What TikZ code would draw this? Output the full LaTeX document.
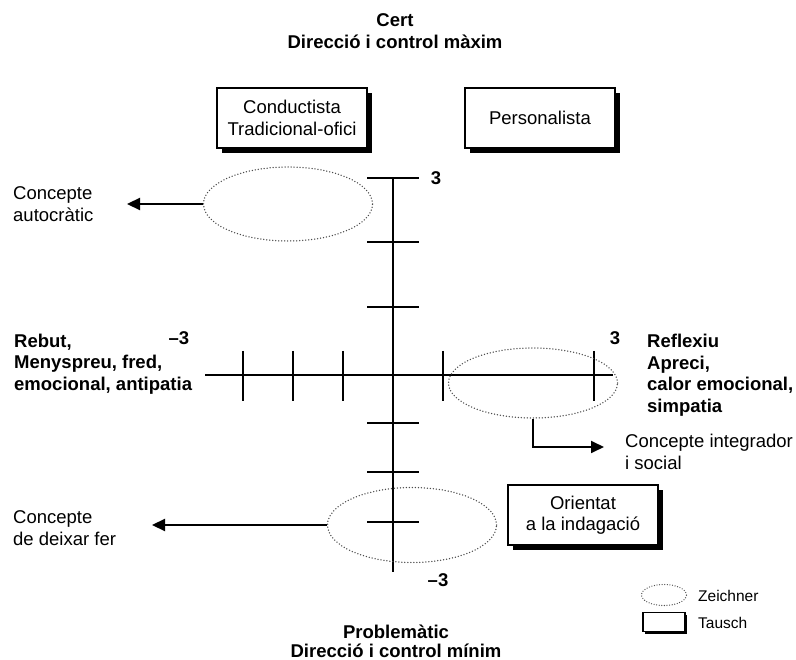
\documentclass[tikz,border=0pt]{standalone}
\usepackage{fontspec}
\setmainfont{Liberation Sans}
\usetikzlibrary{arrows.meta,shadows,shapes.geometric}
\begin{document}
\begin{tikzpicture}[x=1pt, y=-1pt, font=\fontsize{18.5}{21.5}\selectfont,
  every node/.style={inner sep=0pt},
  note/.style={align=left, anchor=west},
  box/.style={draw, fill=white, line width=1.1pt, minimum width=150pt, minimum height=60pt, align=center,
    drop shadow={shadow xshift=#1, shadow yshift=-#1, fill=black, opacity=1}},
  box/.default=5pt,
  zone/.style={ellipse, draw=black!70, line width=1.5pt, line cap=round, dash pattern=on 0pt off 3pt},
  arr/.style={line width=2.2pt, -{Triangle[length=13pt,width=12pt]}}]
\useasboundingbox (0,0) rectangle (796,660);
% titles
\node[align=center, font=\fontsize{18.5}{21.5}\selectfont\bfseries] (top) at (395,31) {Cert\\Direcció i control màxim};
\node[align=center, font=\fontsize{18.5}{19}\selectfont\bfseries] (bottom) at (396,641) {Problemàtic\\Direcció i control mínim};
% axes
\draw[line width=2pt] (393,178) -- (393,572);
\draw[line width=2pt] (205,375) -- (613,375);
\foreach \y in {178,242,307,423,472,522}
  \draw[line width=1.3pt] (367,\y) -- (419,\y);
\foreach \x in {243,293,343,443,594}
  \draw[line width=1.3pt] (\x,351) -- (\x,401);
\node[font=\fontsize{18.5}{21.5}\selectfont\bfseries] (ymax) at (436,178) {3};
\node[font=\fontsize{18.5}{21.5}\selectfont\bfseries] (ymin) at (438,580) {--3};
\node[font=\fontsize{18.5}{21.5}\selectfont\bfseries] (xmin) at (179,338) {--3};
\node[font=\fontsize{18.5}{21.5}\selectfont\bfseries] (xmax) at (615,338) {3};
\node[note, font=\fontsize{18.5}{21.5}\selectfont\bfseries] (left) at (14,364) {Rebut,\\Menyspreu, fred,\\emocional, antipatia};
\node[note, font=\fontsize{18.5}{21.5}\selectfont\bfseries] (right) at (647,375) {Reflexiu\\Apreci,\\calor emocional,\\simpatia};
% boxes
\node[box] (cond) at (292,118) {Conductista\\Tradicional-ofici};
\node[box] (pers) at (540,118) {Personalista};
\node[box] (orient) at (583,515) {Orientat\\a la indagació};
% zones
\node[zone, minimum width=169pt, minimum height=74pt] (autocr) at (288,204) {};
\node[zone, minimum width=169pt, minimum height=70pt] (integr) at (533,383) {};
\node[zone, minimum width=169pt, minimum height=75pt] (deixar) at (412,525) {};
\coordinate (autotip) at (127,204);
\coordinate (integtip) at (604,447);
\coordinate (deixtip) at (152,525);
\draw[arr] (autocr.west) -- (autotip);
\draw[arr, line width=1.8pt] (integr.south) |- (integtip);
\draw[arr] (deixar.west) -- (deixtip);
\node[note] (autotext) at (13,204) {Concepte\\autocràtic};
\node[note] (integtext) at (625,452) {Concepte integrador\\i social};
\node[note] (deixtext) at (13,528) {Concepte\\de deixar fer};
% legend
\node[zone, line width=1.3pt, dash pattern=on 0pt off 2.6pt, minimum width=45pt, minimum height=21pt] (legzone) at (664,595) {};
\node[box=2pt, minimum width=42pt, minimum height=19pt] (legbox) at (664,622) {};
\node[note, font=\fontsize{15.5}{18}\selectfont] (legzonetext) at (698,596) {Zeichner};
\node[note, font=\fontsize{15.5}{18}\selectfont] (legboxtext) at (698,623) {Tausch};
\end{tikzpicture}
\end{document}
